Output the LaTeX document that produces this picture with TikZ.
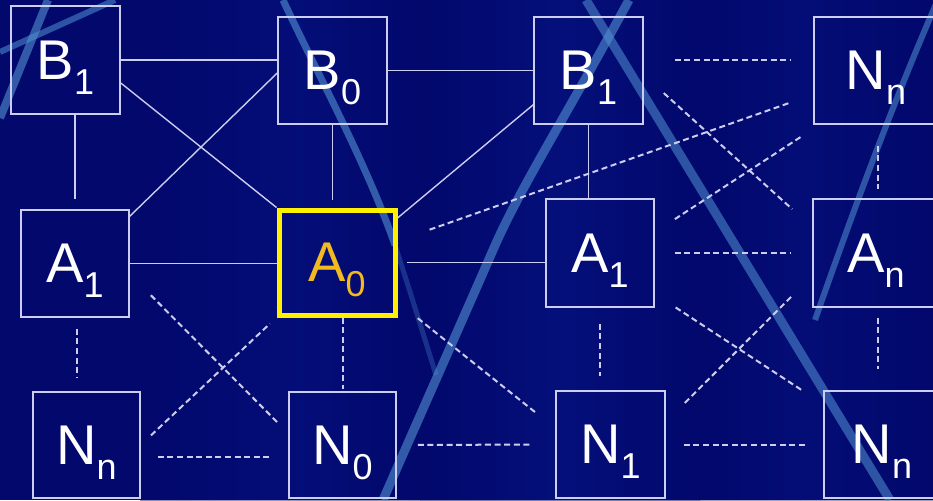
\documentclass[tikz,border=0pt]{standalone}
\usepackage{fontspec}
\setmainfont{Liberation Sans}
\definecolor{bgc}{RGB}{2,8,108}
\definecolor{bgl}{RGB}{8,22,135}
\definecolor{linec}{RGB}{205,205,240}
\definecolor{streakc}{RGB}{82,145,210}
\definecolor{yel}{RGB}{255,240,0}
\definecolor{gold}{RGB}{242,186,32}
\newcommand\lbl[2]{#1\smash{\raisebox{-15pt}{\fontsize{36}{36}\selectfont #2}}}
\begin{document}
\begin{tikzpicture}[x=1pt,y=-1pt,
  box/.style={draw=linec, line width=1.5pt, inner sep=0pt, text=white,
    font=\fontsize{56}{60}\selectfont},
  hotbox/.style={draw=yel, line width=5pt, inner sep=0pt, text=gold,
    font=\fontsize{56}{60}\selectfont},
  wire/.style={draw=linec, line width=1.4pt},
  dwire/.style={draw=linec, line width=2pt, dash pattern=on 6pt off 3.6pt},
  streak/.style={draw=streakc, line cap=butt, line join=round}]
\useasboundingbox (0,0) rectangle (933,500);
% background
\fill[bgc] (0,0) rectangle (933,500);
\shade[left color=bgc, right color=bgl, opacity=0.45] (140,0) rectangle (300,500);
\shade[left color=bgl, right color=bgc, opacity=0.45] (300,0) rectangle (420,500);
\shade[left color=bgc, right color=bgl, opacity=0.55] (420,0) rectangle (560,500);
\shade[left color=bgl, right color=bgc, opacity=0.55] (560,0) rectangle (700,500);
\shade[left color=bgc, right color=bgl, opacity=0.4] (700,0) rectangle (800,500);
\shade[left color=bgl, right color=bgc, opacity=0.4] (800,0) rectangle (933,500);
% streaks
\draw[streak, line width=8pt, opacity=0.6] (0,118) -- (48,0);
\draw[streak, line width=6pt, opacity=0.55] (0,52) -- (115,0);
\draw[streak, line width=7pt, opacity=0.6] (283,0) .. controls (318,75) and (365,160) .. (395,245);
\draw[streak, line width=5pt, opacity=0.3] (395,245) .. controls (408,285) and (422,330) .. (436,375);
\draw[streak, line width=9pt, opacity=0.6] (629,0) .. controls (561,125) and (520,188) .. (493,250) .. controls (466,312) and (410,438) .. (383,500);
\draw[streak, line width=9pt, opacity=0.55] (586,0) -- (890,500);
\draw[streak, line width=6pt, opacity=0.55] (936,4) .. controls (890,110) and (850,220) .. (815,320);
% nodes
\node[box, minimum width=109pt, minimum height=108pt] (b1l) at (65.5,60) {\lbl{B}{1}};
\node[box, minimum width=109pt, minimum height=107pt] (b0) at (332.5,70.5) {\lbl{B}{0}};
\node[box, minimum width=109pt, minimum height=107pt] (b1m) at (588.5,70.5) {\lbl{B}{1}};
\node[box, minimum width=124pt, minimum height=107pt] (nnt) at (876,70.5) {\lbl{N}{n}};
\node[box, minimum width=108pt, minimum height=107pt] (a1l) at (75,263.5) {\lbl{A}{1}};
\node[hotbox, minimum width=116pt, minimum height=105pt] (a0) at (337,262.5) {\lbl{A}{0}};
\node[box, minimum width=108pt, minimum height=108pt] (a1m) at (600,253) {\lbl{A}{1}};
\node[box, minimum width=126pt, minimum height=108pt] (an) at (876,253) {\lbl{A}{n}};
\node[box, minimum width=107pt, minimum height=106pt] (nnbl) at (86.5,445) {\lbl{N}{n}};
\node[box, minimum width=107pt, minimum height=106pt] (n0) at (342.5,445) {\lbl{N}{0}};
\node[box, minimum width=109pt, minimum height=107pt] (n1) at (610.5,444.5) {\lbl{N}{1}};
\node[box, minimum width=116pt, minimum height=107pt] (nnbr) at (882,444.5) {\lbl{N}{n}};
% solid connectors
\draw[wire] (b1l.east) -- (b1l.east -| b0.west);
\draw[wire] (b0.east) -- (b1m.west);
\draw[wire] ([yshift=-23pt]b1l.east) -- (a0.north west);
\draw[wire] ([yshift=-7pt]a1l.north east) -- ([yshift=-2.5pt]b0.west);
\draw[wire, shorten >=10pt] (b1l.south -| a1l.north) -- (a1l.north);
\draw[wire, shorten >=8pt] (b0.south) -- (b0.south |- a0.north);
\draw[wire] ([yshift=-10.5pt]a0.north east) -- ([yshift=20pt]b1m.south west);
\draw[wire] (b1m.south) -- (b1m.south |- a1m.north);
\draw[wire] (a1l.east) -- (a1l.east -| a0.west);
\draw[wire, shorten <=9pt] (a0.east) -- (a0.east -| a1m.west);
% dashed connectors
\draw[dwire, shorten <=31pt, shorten >=23pt] ([yshift=10.5pt]b1m.east) -- ([yshift=10.5pt]nnt.west);
\draw[dwire, shorten <=34pt, shorten >=25pt] ([yshift=21.5pt]a0.east) -- ([yshift=-24pt]nnt.west);
\draw[dwire, shorten <=27pt, shorten >=27pt] ([yshift=-4.5pt]b1m.east) -- ([yshift=-29pt]an.north west);
\draw[dwire, shorten <=24pt, shorten >=13pt] ([yshift=-34pt]a1m.north east) -- ([yshift=-4pt]nnt.south west);
\draw[dwire, shorten <=21pt, shorten >=9pt] ([xshift=2pt]nnt.south) -- ([xshift=2pt]an.north);
\draw[dwire, shorten <=20pt, shorten >=22pt] (a1m.east) -- (an.west);
\draw[dwire, shorten <=11pt, shorten >=14pt] ([xshift=2pt]a1l.south) -- ([xshift=2pt]a1l.south |- nnbl.north);
\draw[dwire, shorten <=30pt, shorten >=13pt] ([yshift=-10.5pt]a1l.east) -- ([yshift=-42pt]n0.north west);
\draw[dwire, shorten <=14pt, shorten >=9pt] (nnbl.east) -- (a0.south west);
\draw[dwire, shorten <=17pt, shorten >=17pt] ([yshift=-12pt]nnbl.east) -- ([yshift=-12pt]n0.west);
\draw[dwire, shorten >=2pt] (n0.north |- a0.south) -- (n0.north);
\draw[dwire, shorten <=21pt, shorten >=23pt] (n0.east) -- (n1.west);
\draw[dwire, shorten <=26pt, shorten >=26pt] ([yshift=15.5pt]a0.south east) -- ([yshift=-38pt]n1.north west);
\draw[dwire, shorten <=16pt, shorten >=14pt] (a1m.south) -- (a1m.south |- n1.north);
\draw[dwire, shorten <=25pt, shorten >=25pt] ([yshift=14pt]a1m.south east) -- ([yshift=-14pt]nnbr.north west);
\draw[dwire, shorten <=27pt, shorten >=28pt] ([yshift=22.5pt]n1.east) -- ([yshift=32pt]an.south west);
\draw[dwire, shorten <=18pt, shorten >=18pt] (n1.east) -- (nnbr.west);
\draw[dwire, shorten <=10pt, shorten >=21pt] ([xshift=2pt]an.south) -- ([xshift=2pt]an.south |- nnbr.north);
\end{tikzpicture}
\end{document}
